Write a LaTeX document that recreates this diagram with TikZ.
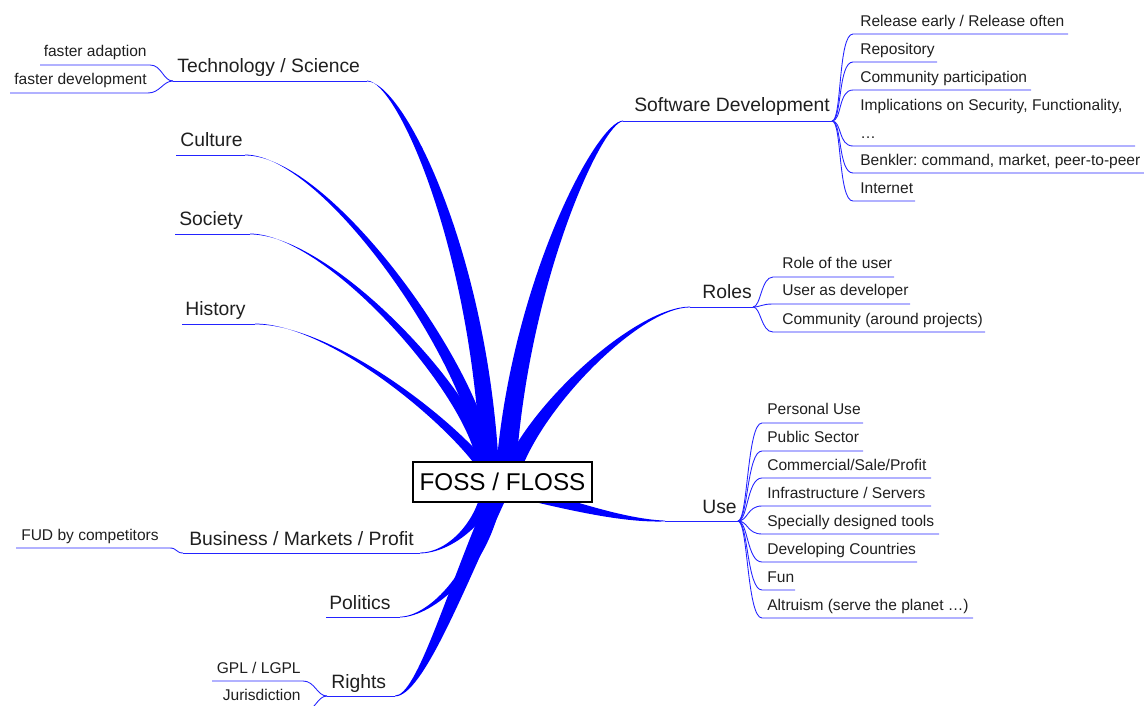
\documentclass[tikz,border=0pt]{standalone}
\usepackage{fontspec}
\setmainfont{Liberation Sans}
\usetikzlibrary{calc}
\definecolor{twigblue}{RGB}{35,35,255}

% tapered branch: start, control 1, control 2, end, half-width offset at the start (dx,dy)
\newcommand\taperbranch[6]{%
  \fill[branch] ($#1+(#5,#6)$) .. controls ($#2+0.85*(#5,#6)$) and ($#3+0.3*(#5,#6)$) .. ($#4+(0,0.4)$)
    -- ($#4+(0,-0.4)$) .. controls ($#3-0.3*(#5,#6)$) and ($#2-0.85*(#5,#6)$) .. ($#1-(#5,#6)$) -- cycle;}

\begin{document}
\frenchspacing
\begin{tikzpicture}[x=0.02cm,y=-0.02cm,
  branch/.style={fill=blue},
  twig/.style={draw=twigblue, line width=0.5pt},
  topic/.style={font=\fontsize{11}{13}\selectfont, inner sep=0pt, text=black!88},
  leaf/.style={font=\fontsize{8.85}{11}\selectfont, inner sep=0pt, text=black!88},
  rootbox/.style={draw=black, line width=0.6pt, fill=white, inner sep=0pt,
    minimum width=3.58cm, minimum height=0.8cm, font=\fontsize{13.8}{16}\selectfont}]

\useasboundingbox (0,0) rectangle (1144,706);
\clip (0,0) rectangle (1144,706);

% ---------- main branches ----------
\taperbranch{(490,470)}{(480,250)}{(400,81)}{(367,81)}{9}{0}     % Technology / Science
\taperbranch{(486,470)}{(485,380)}{(330,155)}{(245,155)}{8}{0}   % Culture
\taperbranch{(486,470)}{(480,400)}{(330,234)}{(250,234)}{8}{0}   % Society
\taperbranch{(486,470)}{(450,420)}{(330,324)}{(255,324)}{7}{0}   % History
\taperbranch{(506,470)}{(520,280)}{(600,121)}{(623,121)}{10}{0}  % Software Development
\taperbranch{(512,470)}{(540,400)}{(640,307)}{(690,307)}{9}{0}   % Roles
\taperbranch{(505,488)}{(560,502)}{(620,521)}{(665,521)}{0}{7}   % Use
\taperbranch{(490,485)}{(485,520)}{(450,553)}{(420,553)}{8}{0}   % Business
\taperbranch{(495,490)}{(485,570)}{(430,617)}{(400,617)}{8}{0}   % Politics
\taperbranch{(500,490)}{(455,590)}{(420,696)}{(395,696)}{10}{0}  % Rights

% ---------- root ----------
\node[rootbox] (root) at (502.5,482) {FOSS / FLOSS};

% ---------- left topics ----------
\coordinate (techL) at (173,81);  \coordinate (techR) at (367,81);
\coordinate (cultL) at (176,155); \coordinate (cultR) at (245,155);
\coordinate (socL) at (175,234);  \coordinate (socR) at (250,234);
\coordinate (histL) at (182,324); \coordinate (histR) at (255,324);
\coordinate (busL) at (183,553);  \coordinate (busR) at (420,553);
\coordinate (polL) at (326,617);  \coordinate (polR) at (400,617);
\coordinate (rigL) at (327,696);  \coordinate (rigR) at (395,696);

\draw[twig] (techL) -- (techR);
\draw[twig] (cultL) -- (cultR);
\draw[twig] (socL) -- (socR);
\draw[twig] (histL) -- (histR);
\draw[twig] (busL) -- (busR);
\draw[twig] (polL) -- (polR);
\draw[twig] (rigL) -- (rigR);

\node[topic, anchor=base west] (tech) at (177,73) {Technology / Science};
\node[topic, anchor=base west] (cult) at (180,147) {Culture};
\node[topic, anchor=base west] (soc) at (179,226) {Society};
\node[topic, anchor=base west] (hist) at (185,316) {History};
\node[topic, anchor=base west] (bus) at (189,545) {Business / Markets / Profit};
\node[topic, anchor=base west] (pol) at (329,609) {Politics};
\node[topic, anchor=base west] (rig) at (331,688) {Rights};

% leaves of the left topics
\coordinate (fa1) at (40,65);  \coordinate (fa2) at (150,65);
\coordinate (fd1) at (10,93);  \coordinate (fd2) at (148,93);
\draw[twig] (fa1) -- (fa2) .. controls +(12,0) and +(-10,0) .. (techL);
\draw[twig] (fd1) -- (fd2) .. controls +(12,0) and +(-10,0) .. (techL);
\node[leaf, anchor=base east] (fadapt) at (147,57) {faster adaption};
\node[leaf, anchor=base east] (fdev) at (147,85) {faster development};

\coordinate (fud1) at (16,548); \coordinate (fud2) at (170,548);
\draw[twig] (fud1) -- (fud2) .. controls +(7,0) and +(-7,0) .. (busL);
\node[leaf, anchor=base east] (fud) at (159,540) {FUD by competitors};

\coordinate (gpl1) at (212,681); \coordinate (gpl2) at (303,681);
\coordinate (jur1) at (215,712); \coordinate (jur2) at (303,712);
\draw[twig] (gpl1) -- (gpl2) .. controls +(12,0) and +(-10,0) .. (rigL);
\draw[twig] (jur1) -- (jur2) .. controls +(12,0) and +(-10,0) .. (rigL);
\node[leaf, anchor=base east] (gpl) at (301,673) {GPL / LGPL};
\node[leaf, anchor=base east] (jur) at (301,700) {Jurisdiction};

% ---------- right topics ----------
\coordinate (swL) at (623,121);  \coordinate (swR) at (832,121);
\coordinate (rolL) at (690,307); \coordinate (rolR) at (753,307);
\coordinate (useL) at (665,521); \coordinate (useR) at (738,521);
\draw[twig] (swL) -- (swR);
\draw[twig] (rolL) -- (rolR);
\draw[twig] (useL) -- (useR);

\node[topic, anchor=base west] (sw) at (634,112) {Software Development};
\node[topic, anchor=base west] (rol) at (702,298) {Roles};
\node[topic, anchor=base west] (use) at (702,513) {Use};

% leaves of Software Development
\foreach \name/\y/\x in {sdA/34/1068, sdB/62/937, sdC/90/1031, sdD/146/1135, sdE/173/1150, sdF/201/915}{
  \coordinate (\name-s) at (853,\y);
  \coordinate (\name-e) at (\x,\y);
  \draw[twig] (swR) .. controls +(10,0) and +(-15,0) .. (\name-s) -- (\name-e);
}
\node[leaf, anchor=base west] (rel) at (860,27) {Release early / Release often};
\node[leaf, anchor=base west] (repo) at (860,55) {Repository};
\node[leaf, anchor=base west] (comm) at (860,83) {Community participation};
\node[leaf, anchor=base west] (impl) at (860,111) {Implications on Security, Functionality,};
\node[leaf, anchor=base west] (impldots) at (860,139) {…};
\node[leaf, anchor=base west] (benk) at (860,166) {Benkler: command, market, peer-to-peer};
\node[leaf, anchor=base west] (inet) at (860,194) {Internet};

% leaves of Roles
\foreach \name/\y/\x in {roA/277/894, roB/304/910, roC/332/985}{
  \coordinate (\name-s) at (773,\y);
  \coordinate (\name-e) at (\x,\y);
  \draw[twig] (rolR) .. controls +(8,0) and +(-12,0) .. (\name-s) -- (\name-e);
}
\node[leaf, anchor=base west] (roleuser) at (782,269) {Role of the user};
\node[leaf, anchor=base west] (userdev) at (782,296) {User as developer};
\node[leaf, anchor=base west] (commproj) at (782,324) {Community (around projects)};

% leaves of Use
\foreach \name/\y/\x in {usA/423/863, usB/451/863, usC/478/931, usD/506/931, usE/534/939, usF/562/917, usG/590/795, usH/618/973}{
  \coordinate (\name-s) at (762,\y);
  \coordinate (\name-e) at (\x,\y);
  \draw[twig] (useR) .. controls +(10,0) and +(-15,0) .. (\name-s) -- (\name-e);
}
\node[leaf, anchor=base west] (pers) at (767,414) {Personal Use};
\node[leaf, anchor=base west] (pub) at (767,442) {Public Sector};
\node[leaf, anchor=base west] (comsale) at (767,470) {Commercial/Sale/Profit};
\node[leaf, anchor=base west] (infra) at (767,498) {Infrastructure / Servers};
\node[leaf, anchor=base west] (tools) at (767,526) {Specially designed tools};
\node[leaf, anchor=base west] (devc) at (767,554) {Developing Countries};
\node[leaf, anchor=base west] (fun) at (767,582) {Fun};
\node[leaf, anchor=base west] (altr) at (767,610) {Altruism (serve the planet …)};
\end{tikzpicture}
\end{document}
